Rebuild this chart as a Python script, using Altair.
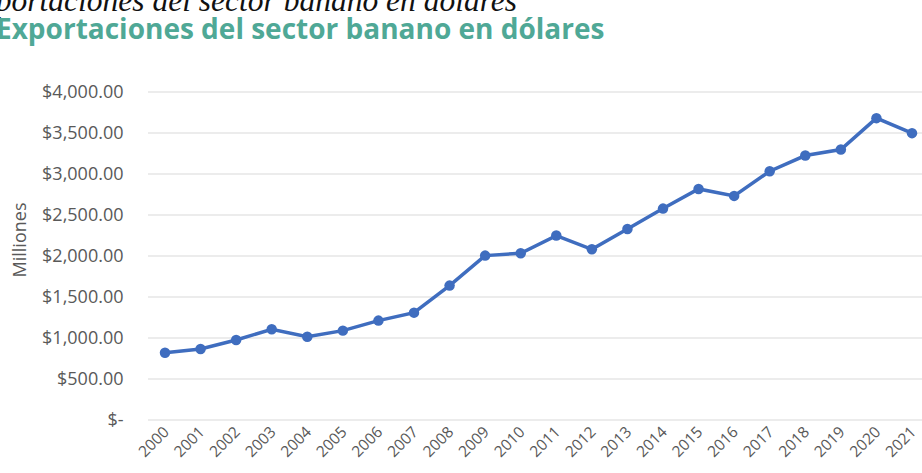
import altair as alt
import pandas as pd

# Annual banana-sector exports, millions of US dollars
years = list(range(2000, 2022))
exports = [820, 866, 976, 1106, 1016, 1090, 1212, 1309, 1639, 2005, 2033,
           2249, 2082, 2330, 2578, 2818, 2733, 3034, 3225, 3298, 3681, 3498]

y_ticks = [0, 500, 1000, 1500, 2000, 2500, 3000, 3500, 4000]

title_text = "Exportaciones del sector banano en dólares"
axis_title = "Milliones"

df = pd.DataFrame({"year": [str(y) for y in years], "exports": exports})
grid_df = pd.DataFrame({"exports": y_ticks})

LINE = "#3F6DBF"
GRAY = "#595959"

y_scale = alt.Scale(domain=[0, 4000], nice=False)

x_enc = alt.X(
    "year:O",
    sort=None,
    scale=alt.Scale(type="point", range=[17, 764], padding=0),
    axis=alt.Axis(
        labelAngle=315, labelPadding=4, labelOffset=-4,
        ticks=False, domain=False, grid=False, title=None,
        labelFont="Open Sans", labelFontSize=15.5, labelColor=GRAY,
        labelOverlap=False,
    ),
)
y_enc = alt.Y(
    "exports:Q",
    scale=y_scale,
    axis=alt.Axis(
        values=y_ticks, ticks=False, domain=False, title=None, grid=False,
        labelExpr="datum.value == 0 ? '$-' : '$' + format(datum.value, ',.2f')",
        labelPadding=25, labelFont="Open Sans", labelFontSize=18,
        labelColor=GRAY,
    ),
)

# Horizontal gridlines spanning the full plot width
grid = alt.Chart(grid_df).mark_rule(color="#d9d9d9", strokeWidth=1).encode(
    y=alt.Y("exports:Q", scale=y_scale),
    x=alt.value(0),
    x2=alt.value(774),
)

base = alt.Chart(df).encode(x=x_enc, y=y_enc)

line = base.mark_line(color=LINE, strokeWidth=3.5)
points = base.mark_circle(color=LINE, size=110, opacity=1)

text_df = pd.DataFrame({"t": [title_text]})

# Italic heading line above the main title (partly outside the canvas)
top_line = alt.Chart(text_df).mark_text(
    font="Liberation Serif", fontStyle="italic", fontSize=31.5, color="#111111",
    align="right", baseline="alphabetic",
).encode(text="t:N", x=alt.value(369), y=alt.value(-81))

main_title = alt.Chart(text_df).mark_text(
    font="Open Sans", fontWeight="bold", fontSize=28, color="#4FA896",
    align="left", baseline="middle",
).encode(text="t:N", x=alt.value(-152), y=alt.value(-61))

y_label = alt.Chart(pd.DataFrame({"t": [axis_title]})).mark_text(
    font="Open Sans", fontSize=18, color=GRAY, angle=270,
    align="center", baseline="middle",
).encode(text="t:N", x=alt.value(-127), y=alt.value(148))

chart = alt.layer(grid, line, points, top_line, main_title, y_label).properties(
    width=774, height=328,
    background="white",
    autosize=alt.AutoSizeParams(type="none"),
    padding={"left": 148, "top": 92, "right": 0, "bottom": 53},
).configure_view(strokeWidth=0).configure_axis(domain=False)

chart.save("out.html", embed_options={"renderer": "svg", "actions": False})
